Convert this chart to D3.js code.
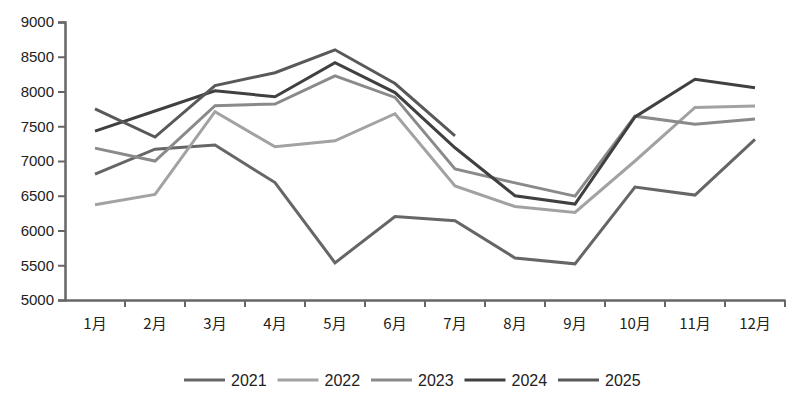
<!DOCTYPE html>
<html>
<head>
<meta charset="utf-8">
<script src="https://cdn.jsdelivr.net/npm/d3@7"></script>
<style>
  body { margin: 0; background: #fff; }
  text { font-family: "Liberation Sans", Arial, sans-serif; }
</style>
</head>
<body>
<div id="chart-area"></div>
<script>
var width = 798;
var height = 399;
var margin = {top: 22, right: 13, bottom: 99, left: 65};

var months = ["1月", "2月", "3月", "4月", "5月", "6月", "7月", "8月", "9月", "10月", "11月", "12月"];
var years = ["2021", "2022", "2023", "2024", "2025"];
var yTicks = [5000, 5500, 6000, 6500, 7000, 7500, 8000, 8500, 9000];

var v2021 = [6810, 7170, 7230, 6690, 5535, 6200, 6140, 5605, 5520, 6625, 6510, 7310];
var v2022 = [6370, 6520, 7710, 7205, 7290, 7680, 6640, 6345, 6260, 7000, 7770, 7790];
var v2023 = [7185, 7000, 7795, 7820, 8225, 7915, 6885, 6685, 6495, 7645, 7530, 7605];
var v2024 = [7430, 7720, 8010, 7925, 8415, 7985, 7190, 6500, 6380, 7635, 8175, 8055];
var v2025 = [7750, 7345, 8085, 8270, 8600, 8115, 7360];

var series = [v2021, v2022, v2023, v2024, v2025];
var colors = ["#666666", "#a2a2a2", "#8a8a8a", "#404040", "#595959"];

var w = width - margin.left - margin.right;
var h = height - margin.top - margin.bottom;

var svg = d3.select("#chart-area").append("svg")
    .attr("width", width)
    .attr("height", height);

var g = svg.append("g")
    .attr("transform", "translate(" + margin.left + ", " + margin.top + ")");

var x = d3.scaleBand()
    .domain(months)
    .range([0, 720]);

var y = d3.scaleLinear()
    .domain([5000, 9000])
    .range([h, 0]);

// y axis
var yAxis = g.append("g")
    .call(d3.axisLeft(y).tickValues(yTicks).tickSize(7).tickPadding(4).tickFormat(d3.format("d")));
yAxis.selectAll("line").attr("stroke", "#666").attr("stroke-width", 2);
yAxis.select(".domain").attr("stroke", "#666").attr("stroke-width", 2.5);
yAxis.selectAll("text")
    .attr("font-size", "15px")
    .attr("fill", "#222")
    .style("font-family", "'Liberation Sans', Arial, sans-serif");

// x axis with ticks at band boundaries
var xAxis = g.append("g")
    .attr("transform", "translate(0, " + h + ")")
    .call(d3.axisBottom(x).tickSize(0).tickPadding(18));
xAxis.select(".domain").attr("stroke", "#666").attr("stroke-width", 2.5);
xAxis.selectAll("text")
    .attr("font-size", "15px")
    .attr("fill", "#222")
    .style("font-family", "'Noto Sans CJK JP', sans-serif");

var bounds = months.map((m) => { return x(m); }).concat([x(months[11]) + x.bandwidth()]);
g.append("g").selectAll("line")
    .data(bounds.slice(1))
    .enter()
    .append("line")
        .attr("x1", (d) => { return d; })
        .attr("x2", (d) => { return d; })
        .attr("y1", h)
        .attr("y2", h + 7)
        .attr("stroke", "#666")
        .attr("stroke-width", 2);

var line = d3.line()
    .x((d, i) => { return x(months[i]) + x.bandwidth() / 2; })
    .y((d) => { return y(d); });

g.selectAll("path.series")
    .data(series)
    .enter()
    .append("path")
        .attr("class", "series")
        .attr("fill", "none")
        .attr("stroke", (d, i) => { return colors[i]; })
        .attr("stroke-width", 3)
        .attr("stroke-linejoin", "miter")
        .attr("d", line);

// legend
var legend = svg.append("g")
    .attr("transform", "translate(184, 380)");

var items = legend.selectAll("g")
    .data(years)
    .enter()
    .append("g")
        .attr("transform", (d, i) => { return "translate(" + (i * 93.5) + ", 0)"; });

items.append("line")
    .attr("x1", 0)
    .attr("x2", 41)
    .attr("stroke", (d, i) => { return colors[i]; })
    .attr("stroke-width", 3);

items.append("text")
    .attr("x", 47)
    .attr("y", 6)
    .attr("font-size", "16px")
    .attr("fill", "#222")
    .text((d) => { return d; });
</script>
</body>
</html>
